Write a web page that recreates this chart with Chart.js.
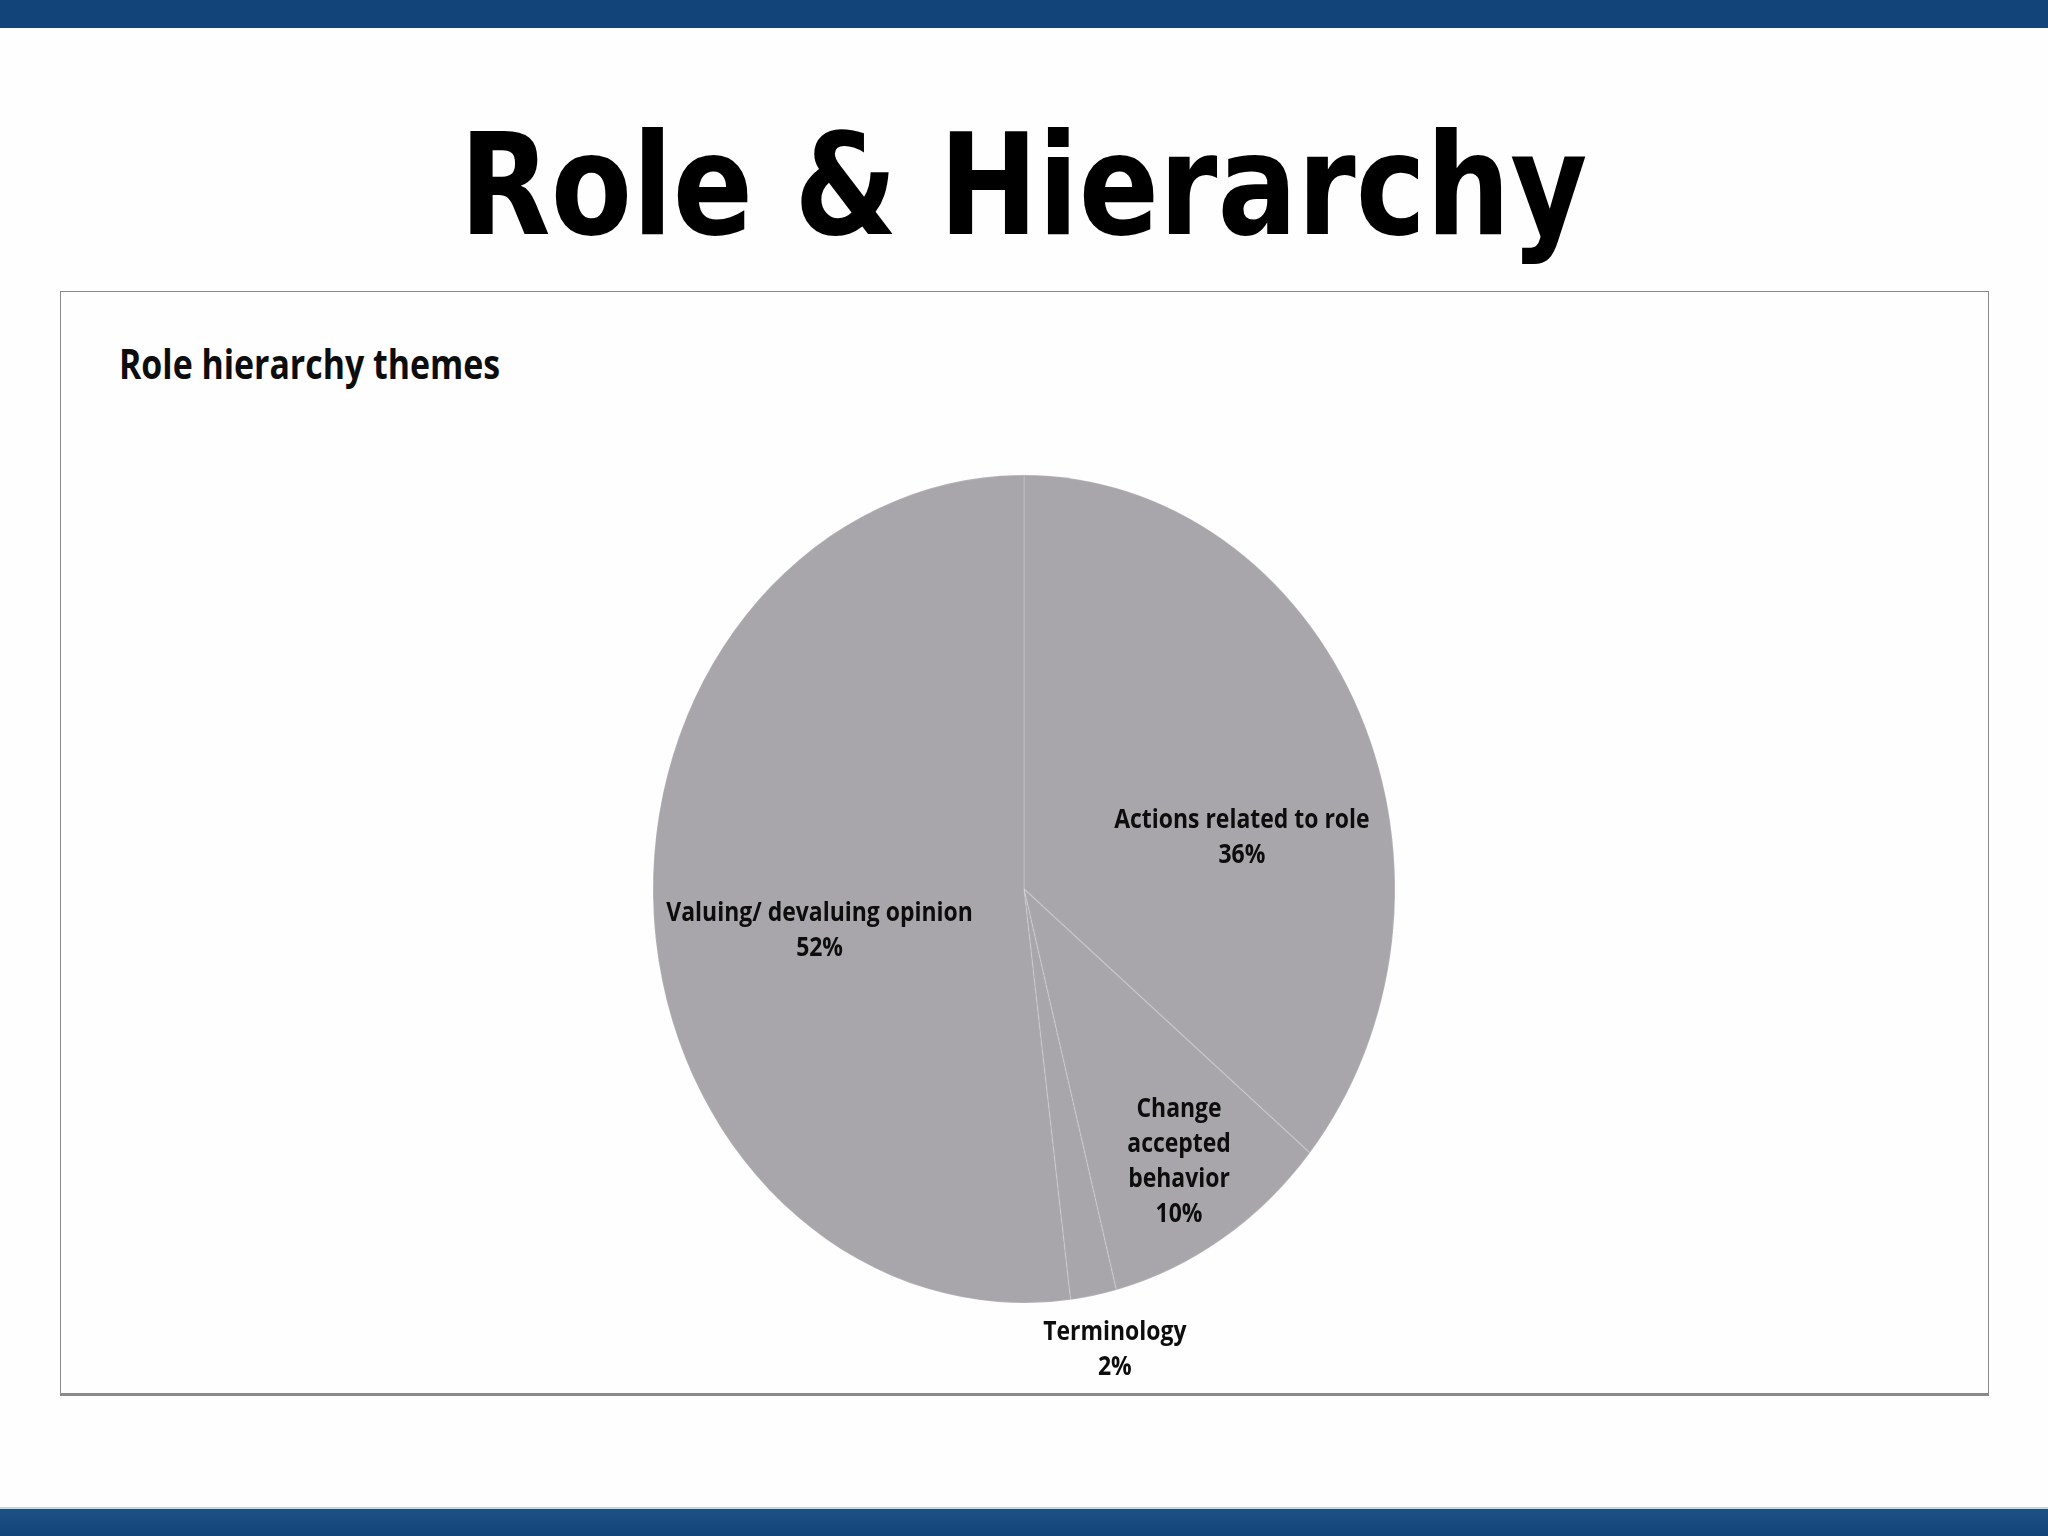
<!DOCTYPE html>
<html>
<head>
<meta charset="utf-8">
<title>Role & Hierarchy</title>
<script src="https://cdn.jsdelivr.net/npm/chart.js@4.4.1/dist/chart.umd.min.js"></script>
<style>
  html, body { margin: 0; padding: 0; width: 2048px; height: 1536px; background: #fefefe; overflow: hidden; }
  .topbar { position: absolute; left: 0; top: 0; width: 2048px; height: 28px; background: #134479; }
  .bottombar { position: absolute; left: 0; top: 1507px; width: 2048px; height: 27px; background: linear-gradient(#1d5186, #134479); border-top: 2px solid #b8dcea; }
  .title { position: absolute; left: 0; top: 104px; width: 2048px; margin: 0; text-align: center; line-height: 1; }
  .title span { display: inline-block; font: bold 140px "Comic Sans MS", "DejaVu Sans", sans-serif; color: #000; transform-origin: center; }
  .frame { position: absolute; left: 60px; top: 291px; width: 1927px; height: 1101px; border: 1px solid #8a8a8a; border-bottom: 3px solid #8a8a8a; }
  .subtitle { position: absolute; left: 119px; top: 334px; margin: 0; line-height: 1; font: bold 42px "Open Sans", sans-serif; color: #0d0d0d; transform-origin: left center; white-space: nowrap; }
  .chart-box { position: absolute; left: 524px; top: 389px; width: 1000px; height: 1000px; }
</style>
</head>
<body>
<div class="topbar"></div>
<h1 class="title"><span id="title">Role &amp; Hierarchy</span></h1>
<div class="frame"></div>
<div class="subtitle" id="subtitle">Role hierarchy themes</div>
<div class="chart-box"><canvas id="pie"></canvas></div>
<div class="bottombar"></div>

<script>
// slices, clockwise from 12 o'clock
const categories = [
  'Actions related to role',
  ['Change', 'accepted', 'behavior'],
  'Terminology',
  'Valuing/ devaluing opinion',
];
const shares = [36, 10, 2, 52];

const sliceColor = '#a8a6aa';
const stretchY = 414 / 371; // the original pie is an upright ellipse

function fitText(el, width) {
  const w = el.getBoundingClientRect().width;
  el.style.transform = `scaleX(${width / w})`;
}

// stretch the pie vertically around its centre
const stretchPlugin = {
  id: 'stretch',
  beforeDatasetsDraw(chart, args, opts) {
    const { ctx } = chart;
    const arc = chart.getDatasetMeta(0).data[0];
    ctx.save();
    ctx.translate(arc.x, arc.y);
    ctx.scale(1, opts.factor);
    ctx.translate(-arc.x, -arc.y);
  },
  afterDatasetsDraw(chart) {
    chart.ctx.restore();
  },
};

const labelPlugin = {
  id: 'sliceLabels',
  afterDraw(chart, args, opts) {
    const { ctx } = chart;
    const meta = chart.getDatasetMeta(0);
    ctx.save();
    ctx.font = opts.font;
    ctx.fillStyle = opts.color;
    ctx.textAlign = 'center';
    ctx.textBaseline = 'middle';
    meta.data.forEach((arc, i) => {
      const { x, y, startAngle, endAngle, outerRadius } = arc.getProps(
        ['x', 'y', 'startAngle', 'endAngle', 'outerRadius'], true);
      const a = (startAngle + endAngle) / 2 + (opts.angleShift[i] * Math.PI) / 180;
      const r = outerRadius * opts.radiusFactor[i];
      const lx = x + Math.cos(a) * r;
      const ly = y + Math.sin(a) * r * opts.stretch;
      const name = chart.data.labels[i];
      const lines = (Array.isArray(name) ? name : [name]).concat(`${chart.data.datasets[0].data[i]}%`);
      const top = ly - ((lines.length - 1) * opts.lineHeight) / 2;
      lines.forEach((line, j) => {
        ctx.save();
        ctx.translate(lx, top + j * opts.lineHeight);
        ctx.scale(opts.squeeze, 1);
        ctx.fillText(line, 0, 0);
        ctx.restore();
      });
    });
    ctx.restore();
  },
};

fitText(document.getElementById('title'), 1128);
fitText(document.getElementById('subtitle'), 381);

new Chart(document.getElementById('pie'), {
  type: 'pie',
  data: {
    labels: categories,
    datasets: [
      {
        data: shares,
        backgroundColor: sliceColor,
        borderColor: 'rgba(255, 255, 255, 0.14)',
        borderWidth: 1.5,
        radius: 371,
        hoverOffset: 0,
      },
    ],
  },
  options: {
    responsive: true,
    maintainAspectRatio: false,
    animation: false,
    events: [],
    plugins: {
      legend: { display: false },
      tooltip: { enabled: false },
      stretch: { factor: stretchY },
      sliceLabels: {
        font: 'bold 27px "Open Sans", sans-serif',
        color: '#0d0d0d',
        lineHeight: 35,
        squeeze: 0.85,
        stretch: stretchY,
        angleShift: [13.4, 0, -1.6, -6.7],
        radiusFactor: [0.6, 0.78, 1.14, 0.56],
      },
    },
  },
  plugins: [stretchPlugin, labelPlugin],
});
</script>
</body>
</html>
